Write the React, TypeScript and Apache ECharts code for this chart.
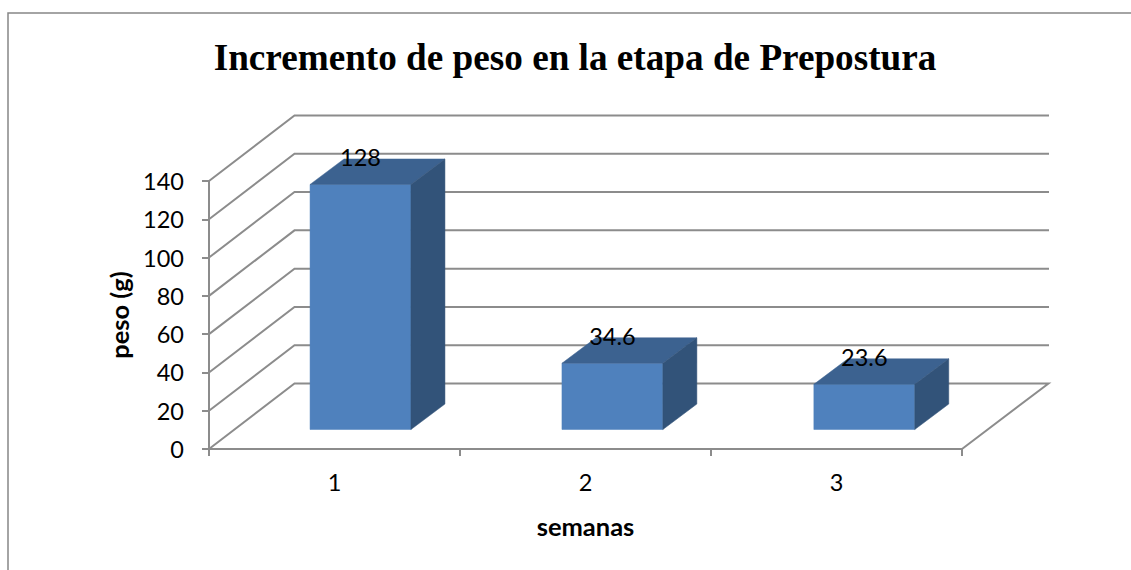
import React, { useEffect, useRef } from "react";
import * as echarts from "echarts";

const categories = ["1", "2", "3"];
const weightGain = [128, 34.6, 23.6];
const valueLabels = ["128", "34.6", "23.6"];
const gridValues = [0, 20, 40, 60, 80, 100, 120, 140];

const TITLE = "Incremento de peso en la etapa de Prepostura";
const X_NAME = "semanas";
const Y_NAME = "peso (g)";

const AXIS = "#8c8c8c";
const SANS = "Lato, Carlito, sans-serif";

// 3D look: depth of the chart box and of the bars, in pixels
const WALL_DX = 85.5;
const WALL_DY = -65.5;
const BAR_DX = 34;
const BAR_DY = -25.5;
const BAR_SHIFT_X = 26;
const BAR_STEP_X = 0.9;
const BAR_SHIFT_Y = -19.5;
const BAR_RATIO = 0.402;

export default function App() {
  const ref = useRef<HTMLDivElement>(null);
  useEffect(() => {
    const chart = echarts.init(ref.current!, null, { renderer: "svg" });
    chart.setOption({
      animation: false,
      backgroundColor: "#ffffff",
      title: {
        text: TITLE,
        left: 570,
        top: 34,
        textAlign: "center",
        textStyle: { fontFamily: "Liberation Serif", fontWeight: "bold", fontSize: 37.2, color: "#000" },
      },
      grid: { left: 209, right: 169, top: 181, bottom: 121 },
      xAxis: {
        type: "category",
        data: categories,
        axisLine: { lineStyle: { color: AXIS, width: 2 } },
        axisTick: { show: true, length: 7, alignWithLabel: false, lineStyle: { color: AXIS, width: 2 } },
        axisLabel: { fontFamily: SANS, fontSize: 23.5, color: "#000", margin: 21 },
        name: X_NAME,
        nameLocation: "middle",
        nameGap: 77,
        nameTextStyle: { fontFamily: SANS, fontSize: 25.5, fontWeight: "bold", color: "#000", verticalAlign: "middle" },
      },
      yAxis: {
        type: "value",
        min: 0,
        max: 140,
        interval: 20,
        splitLine: { show: false },
        axisLine: { show: true, lineStyle: { color: AXIS, width: 2 } },
        axisTick: { show: true, length: 7, lineStyle: { color: AXIS, width: 2 } },
        axisLabel: { fontFamily: SANS, fontSize: 23.5, color: "#000", margin: 25, padding: [2, 0, 0, 0] },
        name: Y_NAME,
        nameLocation: "middle",
        nameGap: 89,
        nameRotate: 90,
        nameTextStyle: { fontFamily: SANS, fontSize: 25.5, fontWeight: "bold", color: "#000", verticalAlign: "middle" },
      },
      graphic: [
        {
          type: "polyline",
          silent: true,
          shape: { points: [[8, 570], [8, 13], [1131, 13]] },
          style: { stroke: "#868686", lineWidth: 1.5, fill: "none" },
        },
      ],
      series: [
        {
          type: "custom",
          z: 1,
          silent: true,
          data: gridValues.map((v) => [0, v]),
          encode: { x: 0, y: 1 },
          renderItem: (params: any, api: any) => {
            const y = api.coord([0, api.value(1)])[1];
            const cs = params.coordSys;
            const x0 = cs.x;
            const x1 = cs.x + cs.width;
            const pts =
              api.value(1) === 0
                ? [[x0, y], [x0 + WALL_DX, y + WALL_DY], [x1 + WALL_DX + 1, y + WALL_DY], [x1, y]]
                : [[x0, y], [x0 + WALL_DX, y + WALL_DY], [x1 + WALL_DX + 1.5, y + WALL_DY]];
            return {
              type: "polyline",
              shape: { points: pts },
              style: { stroke: AXIS, lineWidth: 2, fill: "none" },
            };
          },
        },
        {
          type: "custom",
          z: 3,
          silent: true,
          data: weightGain.map((v, i) => [i, v]),
          encode: { x: 0, y: 1 },
          renderItem: (_params: any, api: any) => {
            const idx = api.value(0);
            const val = api.value(1);
            const [cx, yTop0] = api.coord([idx, val]);
            const yBase0 = api.coord([idx, 0])[1];
            const w = api.size([1, 0])[0] * BAR_RATIO;
            const l = cx + BAR_SHIFT_X + idx * BAR_STEP_X - w / 2;
            const r = l + w;
            const t = yTop0 + BAR_SHIFT_Y;
            const b = yBase0 + BAR_SHIFT_Y;
            const poly = (points: number[][], fill: string) => ({
              type: "polygon",
              shape: { points },
              style: { fill, stroke: fill, lineWidth: 0.5 },
            });
            return {
              type: "group",
              children: [
                poly([[l, b], [r, b], [r, t], [l, t]], "#4f81bd"),
                poly([[l, t], [r, t], [r + BAR_DX, t + BAR_DY], [l + BAR_DX, t + BAR_DY]], "#3c6290"),
                poly([[r, b], [r + BAR_DX, b + BAR_DY], [r + BAR_DX, t + BAR_DY], [r, t]], "#325379"),
                {
                  type: "text",
                  style: {
                    text: valueLabels[idx],
                    x: l + w / 2,
                    y: t - 27,
                    textAlign: "center",
                    textVerticalAlign: "middle",
                    fontFamily: SANS,
                    fontSize: 23.5,
                    fill: "#000",
                  },
                },
              ],
            };
          },
        },
      ],
    });
    return () => chart.dispose();
  }, []);
  return (
    <div
      ref={ref}
      style={{ position: "absolute", left: 0, top: 0, width: 1131, height: 570 }}
    />
  );
}
